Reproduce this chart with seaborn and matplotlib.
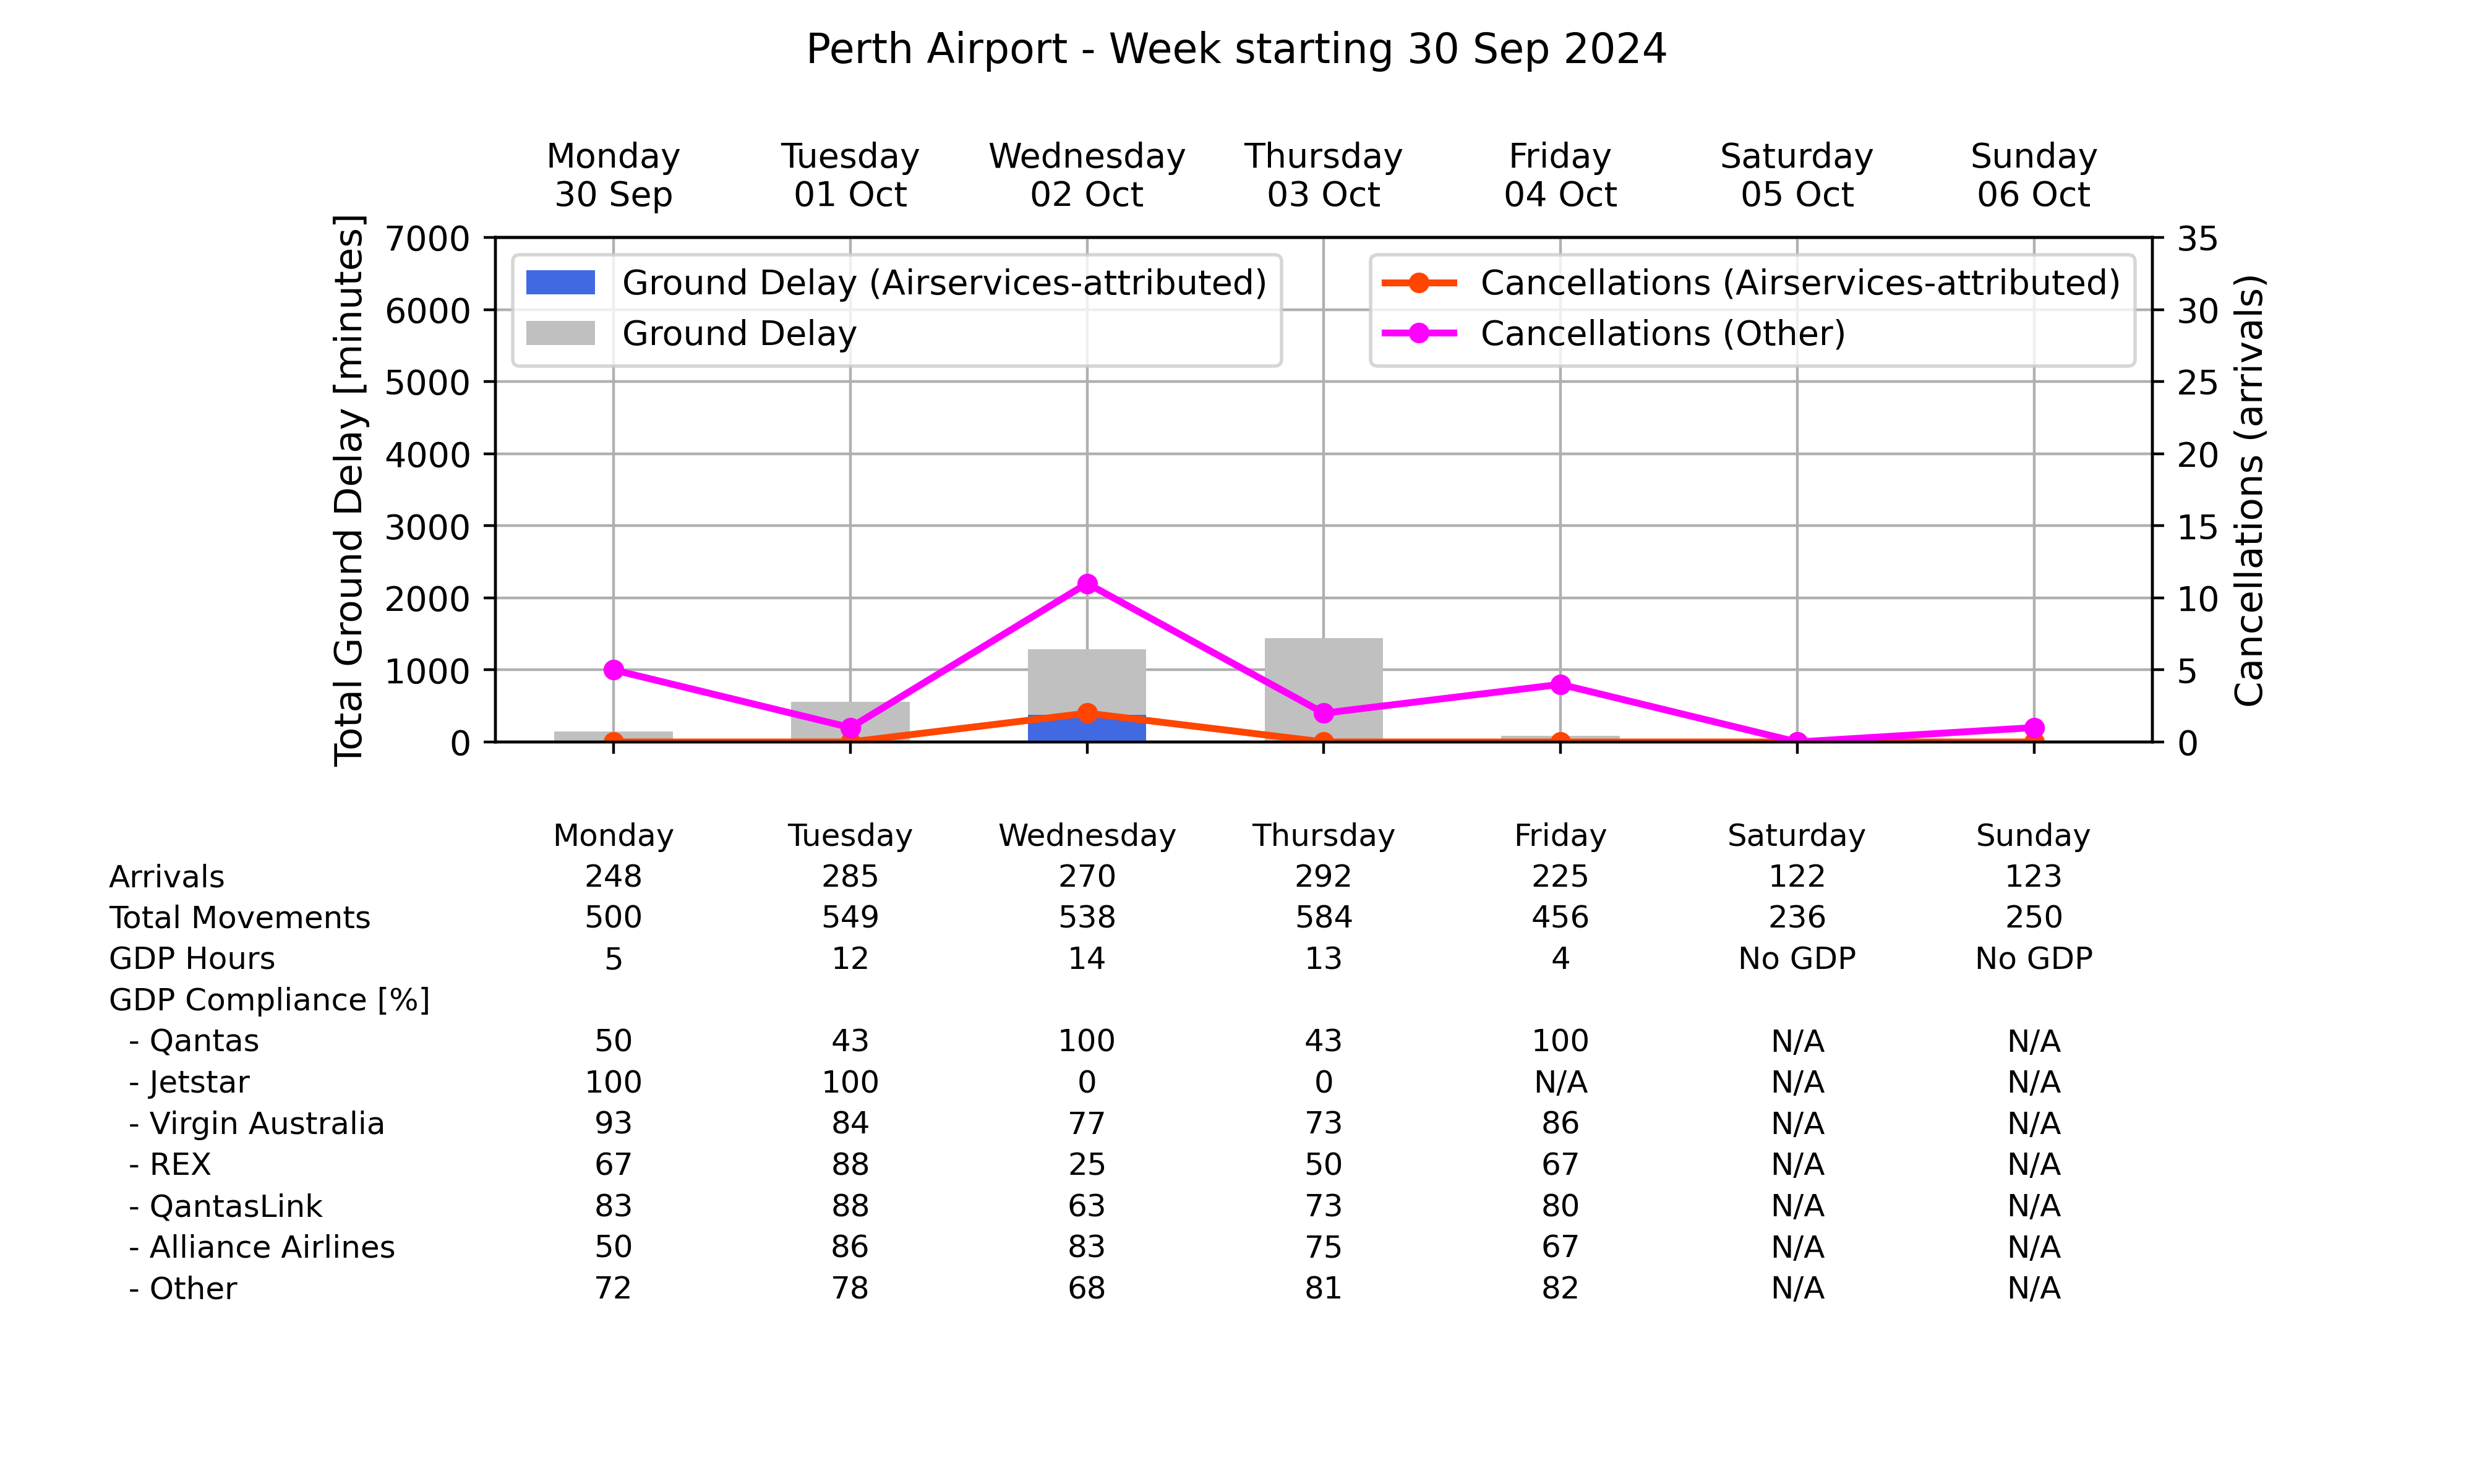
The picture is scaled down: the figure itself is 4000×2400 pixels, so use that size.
import matplotlib
matplotlib.use("Agg")
import matplotlib.pyplot as plt
import seaborn as sns
import pandas as pd
import numpy as np

# ---- data ----
day_names = ["Monday", "Tuesday", "Wednesday", "Thursday", "Friday", "Saturday", "Sunday"]
day_dates = ["30 Sep", "01 Oct", "02 Oct", "03 Oct", "04 Oct", "05 Oct", "06 Oct"]
ground_delay_total = [150, 560, 1290, 1440, 90, 0, 0]
ground_delay_airservices = [0, 0, 375, 0, 0, 0, 0]
cancel_airservices = [0, 0, 2, 0, 0, 0, 0]
cancel_other = [5, 1, 11, 2, 4, 0, 1]

row_labels = ["Arrivals", "Total Movements", "GDP Hours", "GDP Compliance [%]",
              "  - Qantas", "  - Jetstar", "  - Virgin Australia", "  - REX",
              "  - QantasLink", "  - Alliance Airlines", "  - Other"]
arrivals = ["248", "285", "270", "292", "225", "122", "123"]
total_movements = ["500", "549", "538", "584", "456", "236", "250"]
gdp_hours = ["5", "12", "14", "13", "4", "No GDP", "No GDP"]
gdp_compliance = ["", "", "", "", "", "", ""]
comp_qantas = ["50", "43", "100", "43", "100", "N/A", "N/A"]
comp_jetstar = ["100", "100", "0", "0", "N/A", "N/A", "N/A"]
comp_virgin = ["93", "84", "77", "73", "86", "N/A", "N/A"]
comp_rex = ["67", "88", "25", "50", "67", "N/A", "N/A"]
comp_qantaslink = ["83", "88", "63", "73", "80", "N/A", "N/A"]
comp_alliance = ["50", "86", "83", "75", "67", "N/A", "N/A"]
comp_other = ["72", "78", "68", "81", "82", "N/A", "N/A"]
table_rows = [arrivals, total_movements, gdp_hours, gdp_compliance, comp_qantas,
              comp_jetstar, comp_virgin, comp_rex, comp_qantaslink, comp_alliance, comp_other]

title = "Perth Airport - Week starting 30 Sep 2024"

# ---- figure ----
plt.rcParams['font.family'] = ['DejaVu Sans']
fig = plt.figure(figsize=(10, 6), dpi=400)
ax = fig.add_axes([0.2002, 0.50, 0.6698, 0.34])

df = pd.DataFrame({"day": day_names, "total": ground_delay_total,
                   "airs": ground_delay_airservices,
                   "c_airs": cancel_airservices, "c_other": cancel_other,
                   "pos": np.arange(len(day_names))})

ax.set_axisbelow(True)
sns.barplot(data=df, x="day", y="total", color="silver", saturation=1, width=0.5,
            ax=ax, label="Ground Delay", zorder=2)
sns.barplot(data=df, x="day", y="airs", color="royalblue", saturation=1, width=0.5,
            ax=ax, label="Ground Delay (Airservices-attributed)", zorder=3)
ax.set_xlim(-0.5, 6.5)
ax.set_ylim(0, 7000)
ax.set_yticks(range(0, 7001, 1000))
ax.set_xlabel("")
ax.set_ylabel("Total Ground Delay [minutes]", fontsize=11)
ax.grid(True, color="#b0b0b0", linewidth=0.8)
ax.tick_params(axis="x", labelbottom=False)
ax.tick_params(axis="y", labelsize=10)

h, l = ax.get_legend_handles_labels()
order = [l.index("Ground Delay (Airservices-attributed)"), l.index("Ground Delay")]
ax.legend([h[i] for i in order], [l[i] for i in order], loc="upper left", fontsize=10)

top = ax.secondary_xaxis("top")
top.set_xticks(range(len(day_names)))
top.set_xticklabels([f"{n}\n{d}" for n, d in zip(day_names, day_dates)], fontsize=10)
top.tick_params(axis="x", length=0, pad=7)

ax2 = ax.twinx()
sns.lineplot(data=df, x="pos", y="c_airs", color="orangered", marker="o",
             markeredgewidth=0, linewidth=2, markersize=6, ax=ax2,
             label="Cancellations (Airservices-attributed)")
sns.lineplot(data=df, x="pos", y="c_other", color="magenta", marker="o",
             markeredgewidth=0, linewidth=2, markersize=6, ax=ax2,
             label="Cancellations (Other)")
ax2.set_ylim(0, 35)
ax2.set_yticks(range(0, 36, 5))
ax2.set_xlim(-0.5, 6.5)
ax2.set_xlabel("")
ax2.set_ylabel("Cancellations (arrivals)", fontsize=11)
ax2.tick_params(axis="y", labelsize=10)
ax2.legend(loc="upper right", fontsize=10)

fig.suptitle(title, fontsize=12, y=0.979)

# ---- table ----
trans = matplotlib.transforms.blended_transform_factory(ax.transData, fig.transFigure)
y0 = 0.436
dy = 0.02775
for i, n in enumerate(day_names):
    fig.text(i, y0, n, transform=trans, ha="center", va="center", fontsize=9)
for r, (lab, vals) in enumerate(zip(row_labels, table_rows)):
    y = y0 - (r + 1) * dy
    fig.text(0.044, y, lab, ha="left", va="center", fontsize=9)
    for i, v in enumerate(vals):
        fig.text(i, y, v, transform=trans, ha="center", va="center", fontsize=9)

fig.savefig("out.png", dpi=400)
